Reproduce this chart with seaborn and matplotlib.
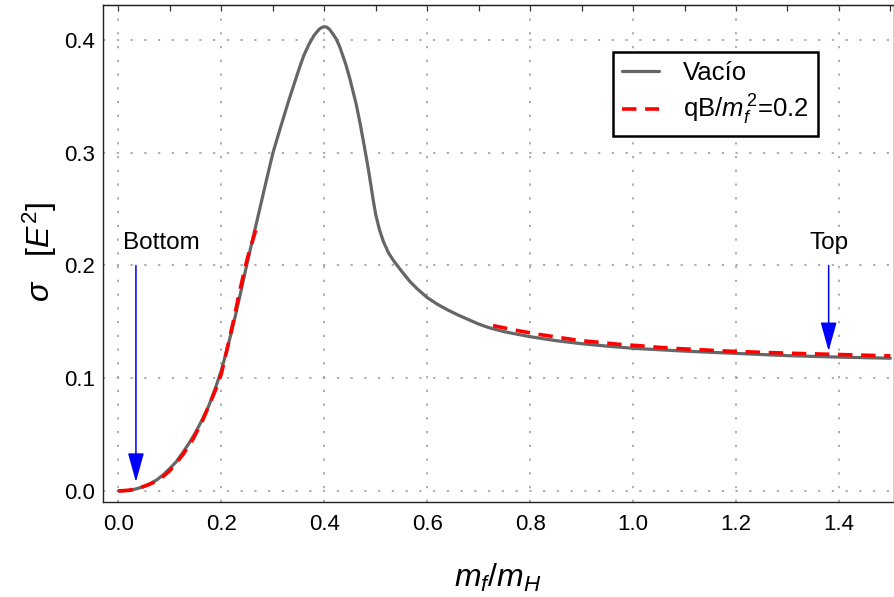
import numpy as np
import pandas as pd
import matplotlib
matplotlib.use("Agg")
import matplotlib.pyplot as plt
import seaborn as sns

# ---- data ----
vac_x = [0.0, 0.0125, 0.025, 0.0375, 0.05, 0.0625, 0.075, 0.0875, 0.1, 0.1125, 0.125,
         0.1375, 0.15, 0.1625, 0.175, 0.1875, 0.2, 0.2125, 0.225, 0.2375, 0.25, 0.2625,
         0.275, 0.2875, 0.3, 0.31, 0.32, 0.33, 0.34, 0.35, 0.36, 0.37, 0.38, 0.39, 0.395,
         0.40, 0.405, 0.41, 0.415, 0.423, 0.43, 0.442, 0.45, 0.462, 0.47, 0.478, 0.485,
         0.491, 0.495, 0.50, 0.507, 0.515, 0.525, 0.535, 0.55, 0.566, 0.58, 0.6, 0.62,
         0.64, 0.66, 0.68, 0.7, 0.72, 0.75, 0.8, 0.85, 0.9, 0.95, 1.0, 1.1, 1.2, 1.3,
         1.4, 1.5]
vac_y = [0.0, 0.0002, 0.0008, 0.0022, 0.004, 0.0067, 0.010, 0.0145, 0.020, 0.026, 0.034,
         0.0425, 0.052, 0.063, 0.075, 0.090, 0.107, 0.128, 0.151, 0.176, 0.202, 0.2265,
         0.251, 0.2755, 0.2995, 0.315, 0.330, 0.345, 0.359, 0.373, 0.386, 0.396, 0.404,
         0.4095, 0.411, 0.4118, 0.4113, 0.4095, 0.4065, 0.401, 0.394, 0.378, 0.365, 0.343,
         0.325, 0.305, 0.287, 0.270, 0.258, 0.245, 0.232, 0.221, 0.211, 0.204, 0.195,
         0.186, 0.1795, 0.1715, 0.1655, 0.1605, 0.156, 0.152, 0.148, 0.1448, 0.1412,
         0.1368, 0.1333, 0.1306, 0.1284, 0.1265, 0.1240, 0.1220, 0.1200, 0.1187, 0.1177]

qb_low_x = [0.0, 0.02, 0.04, 0.06, 0.079, 0.1, 0.125, 0.145, 0.163, 0.18, 0.19, 0.2,
            0.215, 0.225, 0.235, 0.245, 0.251, 0.26, 0.267]
qb_low_y = [0.0, 0.0006, 0.0025, 0.0058, 0.0098, 0.018, 0.032, 0.046, 0.062, 0.080,
            0.091, 0.104, 0.1335, 0.154, 0.176, 0.196, 0.207, 0.221, 0.2315]
qb_high_x = [0.728, 0.776, 0.815, 0.854, 0.893, 0.932, 0.971, 1.01, 1.05, 1.09, 1.13,
             1.165, 1.208, 1.3, 1.4, 1.5]
qb_high_y = [0.1466, 0.1422, 0.139, 0.1363, 0.1336, 0.1319, 0.1301, 0.1289, 0.1274, 0.1262,
             0.1253, 0.1244, 0.1236, 0.1222, 0.1210, 0.1198]

x_major = [0.0, 0.2, 0.4, 0.6, 0.8, 1.0, 1.2, 1.4]
y_major = [0.0, 0.1, 0.2, 0.3, 0.4]

labels = ["Vacío", r"qB/$m_f^{\,2}$=0.2"]
bottom_x, bottom_y0, bottom_y1 = 0.034, 0.2, 0.008
top_x, top_y0, top_y1 = 1.38, 0.2, 0.124

# ---- style ----
sns.set_style("white")
plt.rcParams["font.family"] = ["Liberation Sans", "DejaVu Sans"]
plt.rcParams["mathtext.fontset"] = "custom"
plt.rcParams["mathtext.rm"] = "Liberation Sans"
plt.rcParams["mathtext.it"] = "Liberation Sans:italic"
plt.rcParams["mathtext.bf"] = "Liberation Sans:bold"
plt.rcParams["text.color"] = "black"
plt.rcParams["axes.labelcolor"] = "black"
plt.rcParams["xtick.color"] = "black"
plt.rcParams["ytick.color"] = "black"

fig = plt.figure(figsize=(8.95, 5.97), dpi=100)
ax = fig.add_axes([103/895, 95/597, 791/895, 497/597])

df_vac = pd.DataFrame({"x": vac_x, "y": vac_y})
df_qb = pd.DataFrame({
    "x": qb_low_x + qb_high_x,
    "y": qb_low_y + qb_high_y,
    "seg": [0]*len(qb_low_x) + [1]*len(qb_high_x),
})

sns.lineplot(data=df_vac, x="x", y="y", ax=ax, color="#666666", lw=2.3,
             estimator=None, sort=False, zorder=3)
sns.lineplot(data=df_qb, x="x", y="y", units="seg", ax=ax, color="#ff0000", lw=2.6,
             estimator=None, sort=False, zorder=4, dashes=False)
lines = ax.get_lines()
lines[0].set_label(labels[0])
lines[0].set_solid_joinstyle("round")
for ln in lines[1:]:
    ln.set_dashes((4.0, 2.4))
lines[1].set_label(labels[1])

ax.set_xlim(-0.03, 1.507)
ax.set_ylim(-0.0098, 0.431)

ax.set_xticks(x_major)
ax.set_xticklabels([f"{v:.1f}" for v in x_major])
ax.set_xticks(np.arange(0, 1.51, 0.05), minor=True)
ax.set_yticks(y_major)
ax.set_yticklabels([f"{v:.1f}" for v in y_major])
ax.set_yticks(np.arange(0, 0.431, 0.02), minor=True)

ax.grid(True, which="major", color="#999999", lw=1.1, linestyle=(0, (1.5, 7.5)))
ax.tick_params(axis="both", which="major", direction="in", length=5, width=0.9,
               color="#333333", labelsize=16, labelcolor="black")
ax.tick_params(axis="x", which="major", pad=9)
ax.tick_params(axis="y", which="major", pad=6)
ax.tick_params(axis="both", which="minor", direction="in", length=2.5, width=0.8,
               color="#333333")
secx = ax.secondary_xaxis("top")
secx.set_xticks(np.arange(0, 1.51, 0.1))
secx.tick_params(direction="in", length=4, width=0.9, color="#333333", labeltop=False)
secx.spines["top"].set_color("#222222")

for s in ax.spines.values():
    s.set_color("#222222")
    s.set_linewidth(1.0)

ax.set_xlabel("")
ax.set_ylabel("")
fig.text(498/895, 1 - 578/597, r"$m_f/m_H$", fontsize=23, ha="center", va="center")
fig.text(40/895, 1 - 252/597, r"$\sigma\ \ \ \mathrm{[}E^2\mathrm{]}$", fontsize=23,
         ha="center", va="center", rotation=90)

# arrows
for xa, y0, y1 in [(bottom_x, bottom_y0, bottom_y1), (top_x, top_y0, top_y1)]:
    ax.annotate("", xy=(xa, y1), xytext=(xa, y0),
                arrowprops=dict(arrowstyle="-|>,head_length=1.8,head_width=0.5",
                                color="#0000ff", lw=1.1, mutation_scale=10,
                                shrinkA=0, shrinkB=0), zorder=5)
ax.text(0.083, 0.2195, "Bottom", fontsize=17.5, ha="center", va="center")
ax.text(top_x, 0.2195, "Top", fontsize=17.5, ha="center", va="center")

leg = ax.legend(loc="upper left", bbox_to_anchor=(0.645, 0.905), fontsize=18.5,
                frameon=True, fancybox=False, edgecolor="black", framealpha=1,
                handlelength=1.45, handletextpad=0.9, labelspacing=0.3,
                borderpad=0.35, borderaxespad=0)
leg.get_frame().set_linewidth(1.8)

fig.savefig("out.png", dpi=100)
